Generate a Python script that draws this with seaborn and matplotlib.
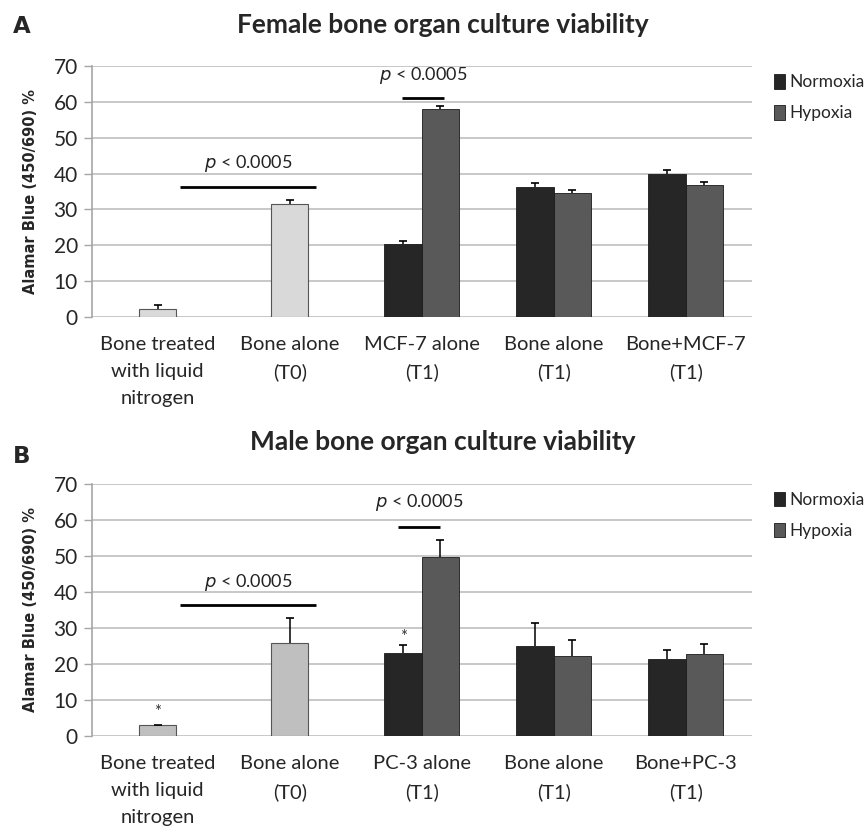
import matplotlib
matplotlib.use("Agg")
import matplotlib.pyplot as plt
import seaborn as sns
import pandas as pd
import numpy as np

# ---------------- data ----------------
categories_A = ["Bone treated\nwith liquid\nnitrogen", "Bone alone\n(T0)", "MCF-7 alone\n(T1)",
                "Bone alone\n(T1)", "Bone+MCF-7\n(T1)"]
categories_B = ["Bone treated\nwith liquid\nnitrogen", "Bone alone\n(T0)", "PC-3 alone\n(T1)",
                "Bone alone\n(T1)", "Bone+PC-3\n(T1)"]

control_A = [2.3, 31.6]
control_err_A = [0.9, 0.9]
normoxia_A = [20.2, 36.3, 40.0]
normoxia_err_A = [1.0, 1.1, 0.9]
hypoxia_A = [58.0, 34.6, 36.7]
hypoxia_err_A = [0.8, 0.9, 0.9]

control_B = [3.1, 25.9]
control_err_B = [0.0, 6.9]
normoxia_B = [23.1, 25.0, 21.4]
normoxia_err_B = [2.2, 6.5, 2.6]
hypoxia_B = [49.6, 22.3, 22.9]
hypoxia_err_B = [4.9, 4.3, 2.6]

conditions = ["Normoxia", "Hypoxia"]
titles = ["Female bone organ culture viability", "Male bone organ culture viability"]
panel_letters = ["A", "B"]
letter_y = [1.131, 1.083]
ylabel = "Alamar Blue (450/690) %"
yticks = [0, 10, 20, 30, 40, 50, 60, 70]

# significance annotations: (x0, x1, y, label_y)
sig_A = [(0.17, 1.20, 36.2, 42.8), (1.85, 2.17, 61.0, 67.4)]
sig_B = [(0.17, 1.20, 36.3, 42.5), (1.82, 2.14, 58.0, 64.7)]
asterisks_B = [(0, 6.7), (1.86, 27.5)]

sns.set_style("white")
plt.rcParams["font.family"] = ["Lato", "DejaVu Sans"]

fig = plt.figure(figsize=(8.65, 8.27), dpi=100)
ax_A = fig.add_axes([0.106, 0.617, 0.763, 0.303])
ax_B = fig.add_axes([0.106, 0.110, 0.763, 0.305])

panels = [
    (ax_A, categories_A, control_A, control_err_A, normoxia_A, normoxia_err_A,
     hypoxia_A, hypoxia_err_A, "#d9d9d9", sig_A, []),
    (ax_B, categories_B, control_B, control_err_B, normoxia_B, normoxia_err_B,
     hypoxia_B, hypoxia_err_B, "#bfbfbf", sig_B, asterisks_B),
]

for i, (ax, cats, ctl, ctl_err, nor, nor_err, hyp, hyp_err, ctl_color, sigs, asts) in enumerate(panels):
    df_single = pd.DataFrame({"cat": cats[:2], "value": ctl})
    df_pair = pd.DataFrame({
        "cat": cats[2:] * 2,
        "condition": ["Normoxia"] * 3 + ["Hypoxia"] * 3,
        "value": nor + hyp,
    })
    sns.barplot(data=df_single, x="cat", y="value", order=cats, width=0.28,
                color=ctl_color, edgecolor="#555555", linewidth=0.8, errorbar=None,
                ax=ax, zorder=3, saturation=1)
    sns.barplot(data=df_pair, x="cat", y="value", hue="condition", order=cats,
                hue_order=conditions, palette=["#262626", "#595959"], width=0.57,
                edgecolor="#1a1a1a", linewidth=0.6, errorbar=None, ax=ax, zorder=3,
                saturation=1)
    errs = [ctl_err, nor_err, hyp_err]
    for cont, err in zip(ax.containers, errs):
        xs = np.array([b.get_x() + b.get_width() / 2 for b in cont])
        ys = np.array([b.get_height() for b in cont])
        err = np.array(err)
        ax.vlines(xs, ys, ys + err, color="black", lw=1.1, zorder=4)
        ax.scatter(xs, ys + err, marker="_", s=40, color="black", linewidths=1.2, zorder=4)

    for x0, x1, y, ty in sigs:
        ax.plot([x0, x1], [y, y], color="black", lw=2, zorder=5, solid_capstyle="butt")
        ax.text((x0 + x1) / 2, ty, r"$\mathit{p}$ < 0.0005", ha="center", va="center",
                fontsize=13, color="#222222")
    for x, y in asts:
        ax.text(x, y, "*", ha="center", va="center", fontsize=12, color="#333333")

    ax.set_ylim(0, 70)
    ax.set_xlim(-0.5, 4.5)
    ax.set_yticks(yticks)
    ax.set_yticklabels([str(t) for t in yticks], fontsize=15)
    ax.tick_params(axis="x", labelsize=14.5, length=0, pad=14)
    ax.tick_params(axis="y", length=6, width=1.0, color="#a6a6a6", pad=4, left=True)
    for lbl in ax.get_xticklabels():
        lbl.set_linespacing(1.7)
    ax.set_xlabel("")
    ax.set_ylabel(ylabel, fontsize=10.5, fontweight="bold", family="DejaVu Sans", labelpad=11)
    ax.yaxis.grid(True, color="#bfbfbf", lw=1.2, zorder=0)
    ax.set_axisbelow(True)
    for s in ["top", "right", "bottom"]:
        ax.spines[s].set_visible(False)
    ax.spines["left"].set_color("#a6a6a6")
    ax.spines["left"].set_linewidth(1.2)
    ax.set_title(titles[i], fontsize=19, fontweight="bold", pad=24, x=0.532)
    ax.text(-0.12, letter_y[i], panel_letters[i], transform=ax.transAxes, fontsize=16.5,
            fontweight="bold", family="DejaVu Sans", va="baseline")

    leg = ax.get_legend()
    if leg is not None:
        leg.remove()
    handles, labels = ax.get_legend_handles_labels()
    ax.legend(handles[-2:], labels[-2:], loc="upper left", bbox_to_anchor=(1.01, 1.03),
              frameon=False, fontsize=12.5, handlelength=0.65, handleheight=0.9,
              handletextpad=0.25, labelspacing=0.85)

fig.savefig("out.png", dpi=100)
